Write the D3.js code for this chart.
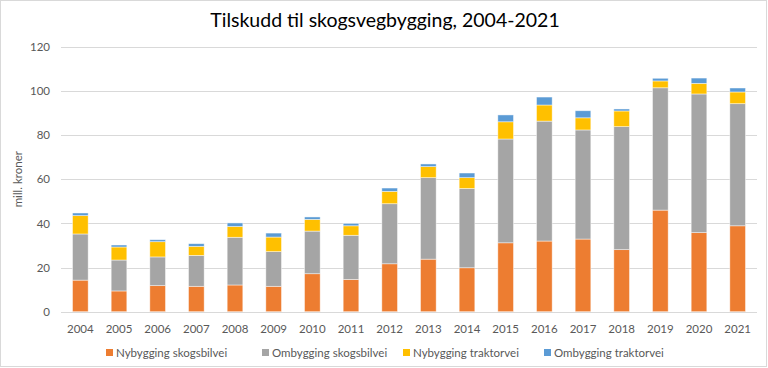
<!DOCTYPE html>
<html><head><meta charset="utf-8">
<script src="https://cdn.jsdelivr.net/npm/d3@7"></script>
<style>body{margin:0;background:#fff}svg{display:block}</style>
</head><body>
<svg id="c" width="768" height="368"></svg>
<script>
const years = ["2004","2005","2006","2007","2008","2009","2010","2011","2012","2013","2014","2015","2016","2017","2018","2019","2020","2021"];
const nySkogsbilvei = [14.3,9.4,11.8,11.5,12.1,11.5,17.2,14.6,21.7,23.8,19.9,31.2,32.0,32.9,28.1,46.0,35.8,38.9];
const omSkogsbilvei = [20.9,14.0,13.0,14.0,21.6,15.7,19.3,20.0,27.2,36.9,35.9,47.0,54.3,49.4,55.7,55.4,62.8,55.3];
const nyTraktorvei = [8.3,5.9,6.9,4.1,4.9,6.6,5.3,4.3,5.6,5.0,4.9,7.8,7.3,5.5,7.1,3.1,4.8,5.3];
const omTraktorvei = [1.2,0.9,0.9,1.2,1.6,1.8,1.1,1.1,1.5,1.2,2.1,3.1,3.6,3.2,0.9,1.2,2.4,1.8];
const seriesNames = ["Nybygging skogsbilvei","Ombygging skogsbilvei","Nybygging traktorvei","Ombygging traktorvei"];
const colors = ["#ED7D31","#A5A5A5","#FFC000","#5B9BD5"];
const yTicks = [0,20,40,60,80,100,120];
const title = "Tilskudd til skogsvegbygging, 2004-2021";
const yTitle = "mill. kroner";

const seriesData = [nySkogsbilvei, omSkogsbilvei, nyTraktorvei, omTraktorvei];
const keys = ["a","b","c","d"];
const rows = years.map((y,i)=>{const r={year:y}; keys.forEach((k,j)=>r[k]=seriesData[j][i]); return r;});

const svg = d3.select("#c");
const font = "Lato, 'Open Sans', sans-serif";
const M = {left:61, right:757, top:46.7, bottom:311.7};

svg.append("rect").attr("x",0.5).attr("y",0.5).attr("width",766).attr("height",366)
  .attr("fill","#fff").attr("stroke","#D9D9D9");

const x = d3.scaleBand().domain(years).range([M.left,M.right]).paddingInner(0.595).paddingOuter(0.2975);
const y = d3.scaleLinear().domain([0,120]).range([M.bottom,M.top]);

// gridlines
svg.append("g").selectAll("line").data(yTicks).join("line")
  .attr("x1",M.left).attr("x2",M.right)
  .attr("y1",d=>Math.round(y(d))+0.5).attr("y2",d=>Math.round(y(d))+0.5)
  .attr("stroke","#D9D9D9").attr("stroke-width",1);

// y axis labels
const yAxis = d3.axisLeft(y).tickValues(yTicks).tickSize(0).tickPadding(0);
const gy = svg.append("g").attr("transform",`translate(${M.left-11},0)`).call(yAxis);
gy.select(".domain").remove();
gy.selectAll("text").attr("font-family",font).attr("font-size",11.5).attr("fill","#595959");

// stacked bars
const stack = d3.stack().keys(keys)(rows);
svg.append("g").selectAll("g").data(stack).join("g")
  .attr("fill",(d,i)=>colors[i])
  .selectAll("rect").data(d=>d).join("rect")
  .attr("x",d=>x(d.data.year)).attr("width",x.bandwidth())
  .attr("y",d=>y(d[1])).attr("height",d=>y(d[0])-y(d[1]))
  .attr("stroke","#fff").attr("stroke-opacity",0.6).attr("stroke-width",0.75);

// x axis
const xAxis = d3.axisBottom(x).tickSize(0).tickPadding(12);
const gx = svg.append("g").attr("transform",`translate(0,${Math.round(y(0))+0.5})`).call(xAxis);
gx.select(".domain").attr("stroke","#D9D9D9").attr("d",`M${M.left},0H${M.right}`);
gx.selectAll("text").attr("font-family",font).attr("font-size",11.5).attr("fill","#595959");

// title
svg.append("text").attr("x",385).attr("y",27).attr("text-anchor","middle")
  .attr("font-family",font).attr("font-size",19.5).attr("fill","#000").text(title);

// y title
svg.append("text").attr("transform",`translate(22,${(M.top+M.bottom)/2}) rotate(-90)`)
  .attr("text-anchor","middle").attr("font-family",font).attr("font-size",11.5).attr("fill","#595959").text(yTitle);

// legend
const legX = [106,262,403,544];
const lg = svg.append("g").selectAll("g").data(seriesNames).join("g")
  .attr("transform",(d,i)=>`translate(${legX[i]},349)`);
lg.append("rect").attr("width",7).attr("height",7).attr("fill",(d,i)=>colors[i]);
lg.append("text").attr("x",10).attr("y",7.5).attr("font-family",font).attr("font-size",11.5).attr("fill","#595959").text(d=>d);
</script>
</body></html>
